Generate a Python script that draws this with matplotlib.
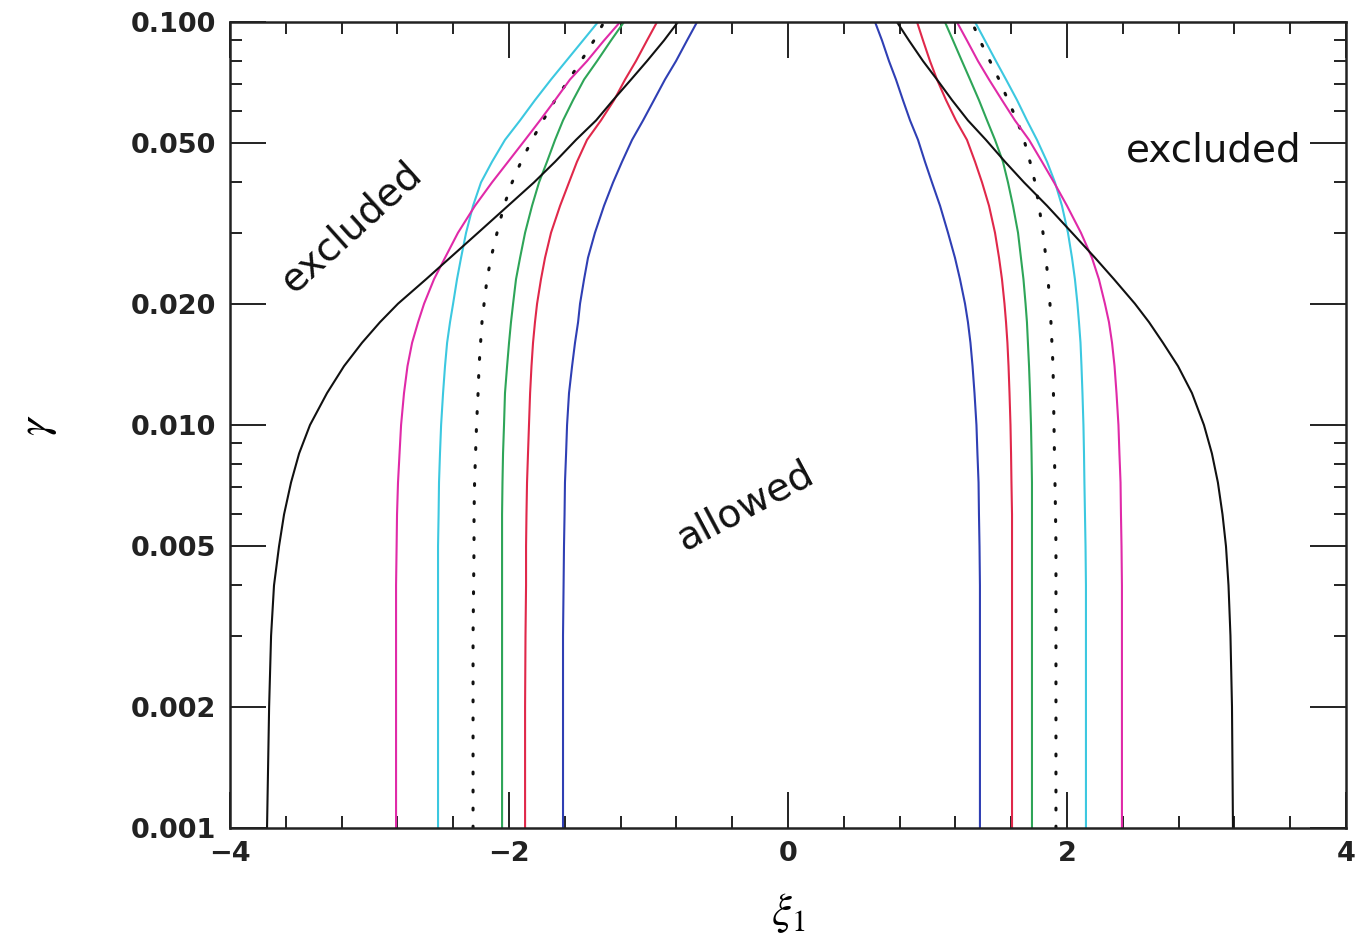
import numpy as np
import matplotlib
matplotlib.use('Agg')
import matplotlib.pyplot as plt
from matplotlib.ticker import LogLocator, FixedLocator, FixedFormatter, MultipleLocator, NullFormatter

plt.rcParams['mathtext.fontset'] = 'stix'

# gamma values at which each boundary was tabulated
gamma = [0.001, 0.002, 0.003, 0.004, 0.005, 0.006, 0.0072, 0.0085, 0.010,
         0.012, 0.014, 0.016, 0.018, 0.020, 0.023, 0.026, 0.030, 0.035,
         0.040, 0.045, 0.051, 0.057, 0.064, 0.072, 0.080, 0.090, 0.100]

# xi_1 of the left / right boundary of each curve
blue_left = [-1.613, -1.613, -1.613, -1.609, -1.606, -1.602, -1.599, -1.591, -1.584,
             -1.570, -1.548, -1.527, -1.505, -1.491, -1.462, -1.434, -1.384, -1.319,
             -1.254, -1.190, -1.118, -1.039, -0.961, -0.882, -0.803, -0.724, -0.652]
blue_right = [1.376, 1.376, 1.376, 1.376, 1.373, 1.369, 1.366, 1.358, 1.351,
              1.337, 1.323, 1.308, 1.290, 1.269, 1.233, 1.197, 1.147, 1.090,
              1.032, 0.982, 0.932, 0.875, 0.824, 0.774, 0.724, 0.674, 0.624]
red_left = [-1.885, -1.885, -1.882, -1.878, -1.878, -1.875, -1.871, -1.864, -1.857,
            -1.849, -1.839, -1.828, -1.814, -1.799, -1.771, -1.742, -1.699, -1.634,
            -1.570, -1.513, -1.441, -1.341, -1.247, -1.168, -1.090, -1.011, -0.939]
red_right = [1.606, 1.606, 1.606, 1.606, 1.606, 1.606, 1.602, 1.599, 1.595,
             1.588, 1.581, 1.573, 1.563, 1.552, 1.534, 1.513, 1.484, 1.441,
             1.391, 1.341, 1.283, 1.204, 1.133, 1.068, 1.018, 0.968, 0.925]
green_left = [-2.050, -2.050, -2.050, -2.050, -2.050, -2.050, -2.047, -2.043, -2.036,
              -2.029, -2.014, -2.000, -1.986, -1.971, -1.950, -1.921, -1.885, -1.835,
              -1.785, -1.728, -1.670, -1.613, -1.541, -1.462, -1.369, -1.269, -1.176]
green_right = [1.749, 1.749, 1.749, 1.749, 1.749, 1.749, 1.749, 1.746, 1.742,
               1.735, 1.728, 1.720, 1.713, 1.703, 1.688, 1.670, 1.649, 1.613,
               1.577, 1.541, 1.484, 1.427, 1.369, 1.305, 1.247, 1.183, 1.125]
dot_left = [-2.258, -2.258, -2.258, -2.254, -2.251, -2.251, -2.247, -2.240, -2.233,
            -2.222, -2.215, -2.204, -2.194, -2.179, -2.158, -2.129, -2.086, -2.036,
            -1.978, -1.914, -1.835, -1.756, -1.670, -1.570, -1.484, -1.391, -1.319]
dot_right = [1.921, 1.921, 1.921, 1.921, 1.921, 1.918, 1.914, 1.910, 1.907,
             1.903, 1.900, 1.892, 1.885, 1.878, 1.864, 1.849, 1.828, 1.799,
             1.771, 1.735, 1.692, 1.642, 1.577, 1.513, 1.448, 1.376, 1.319]
cyan_left = [-2.509, -2.509, -2.509, -2.509, -2.509, -2.505, -2.502, -2.495, -2.487,
             -2.473, -2.459, -2.444, -2.423, -2.401, -2.373, -2.344, -2.308, -2.258,
             -2.201, -2.122, -2.029, -1.921, -1.814, -1.699, -1.591, -1.470, -1.362]
cyan_right = [2.136, 2.136, 2.136, 2.136, 2.133, 2.129, 2.125, 2.122, 2.118,
              2.111, 2.104, 2.097, 2.086, 2.075, 2.057, 2.036, 2.007, 1.964,
              1.914, 1.857, 1.785, 1.713, 1.642, 1.563, 1.491, 1.412, 1.341]
magenta_left = [-2.810, -2.810, -2.810, -2.810, -2.806, -2.803, -2.796, -2.785, -2.774,
                -2.753, -2.728, -2.695, -2.652, -2.609, -2.538, -2.459, -2.366, -2.244,
                -2.122, -2.007, -1.885, -1.778, -1.670, -1.563, -1.441, -1.319, -1.204]
magenta_right = [2.394, 2.394, 2.394, 2.394, 2.391, 2.387, 2.384, 2.376, 2.369,
                 2.355, 2.341, 2.323, 2.301, 2.272, 2.229, 2.179, 2.100, 2.000,
                 1.907, 1.821, 1.728, 1.627, 1.534, 1.441, 1.362, 1.283, 1.211]
black_left = [-3.735, -3.720, -3.706, -3.685, -3.649, -3.613, -3.563, -3.505, -3.427,
              -3.305, -3.183, -3.054, -2.925, -2.796, -2.595, -2.423, -2.222, -2.007,
              -1.821, -1.670, -1.520, -1.376, -1.254, -1.125, -1.011, -0.889, -0.789]
black_right = [3.190, 3.183, 3.172, 3.158, 3.140, 3.115, 3.082, 3.039, 2.982,
               2.896, 2.796, 2.688, 2.588, 2.487, 2.337, 2.201, 2.036, 1.857,
               1.692, 1.556, 1.419, 1.290, 1.176, 1.068, 0.968, 0.867, 0.781]

ytick_vals = [0.001, 0.002, 0.005, 0.010, 0.020, 0.050, 0.100]
ytick_labels = ['0.001', '0.002', '0.005', '0.010', '0.020', '0.050', '0.100']

curves = [
    (blue_left, blue_right, '#2f3fb4', '-'),
    (red_left, red_right, '#e0284a', '-'),
    (green_left, green_right, '#2ea558', '-'),
    (dot_left, dot_right, '#111111', 'dot'),
    (cyan_left, cyan_right, '#3cc8e0', '-'),
    (magenta_left, magenta_right, '#e02aa8', '-'),
    (black_left, black_right, '#111111', '-'),
]

fig = plt.figure(figsize=(13.67, 9.49), dpi=100)
ax = fig.add_axes([0.1683, 0.1275, 0.8163, 0.8493])

for xl, xr, col, ls in curves:
    for xs in (xl, xr):
        if ls == 'dot':
            ax.plot(xs, gamma, color=col, lw=2.2, ls=(0, (0.6, 5.3)),
                    dash_capstyle='round', solid_joinstyle='round')
        else:
            ax.plot(xs, gamma, color=col, lw=1.5, solid_joinstyle='round')

ax.set_yscale('log')
ax.set_xlim(-4, 4)
ax.set_ylim(0.001, 0.1)

ax.xaxis.set_major_locator(MultipleLocator(2))
ax.xaxis.set_minor_locator(MultipleLocator(0.4))
ax.xaxis.set_major_formatter(plt.FuncFormatter(lambda v, p: '%d' % v if v >= 0 else '\u2212%d' % -v))

ax.yaxis.set_major_locator(FixedLocator(ytick_vals))
ax.yaxis.set_major_formatter(FixedFormatter(ytick_labels))
ax.yaxis.set_minor_locator(LogLocator(base=10, subs=(3, 4, 6, 7, 8, 9)))
ax.yaxis.set_minor_formatter(NullFormatter())

ax.tick_params(which='both', direction='in', top=True, right=True, width=1.4, color='#222222')
ax.tick_params(which='major', length=26)
ax.tick_params(which='minor', length=8.5)
ax.tick_params(axis='y', which='major', pad=10, labelsize=19.5)
ax.tick_params(axis='x', which='major', pad=9, labelsize=19.5)
for lab in ax.get_xticklabels() + ax.get_yticklabels():
    lab.set_fontweight('bold')
    lab.set_color('#222222')
for s in ax.spines.values():
    s.set_linewidth(1.8)
    s.set_color('#222222')

ax.set_xlabel(r'$\xi_1$', fontsize=32, labelpad=18)
ax.set_ylabel(r'$\gamma$', fontsize=32, labelpad=52)

hand = dict(family='DejaVu Sans', fontweight='normal', color='#111111', fontsize=28)
ax.text(-3.13, 0.031, 'excluded', rotation=42, ha='center', va='center', **hand)
ax.text(3.05, 0.048, 'excluded', rotation=0, ha='center', va='center', **hand)
ax.text(-0.31, 0.0063, 'allowed', rotation=28, ha='center', va='center', **hand)

fig.savefig('out.png', dpi=100)
